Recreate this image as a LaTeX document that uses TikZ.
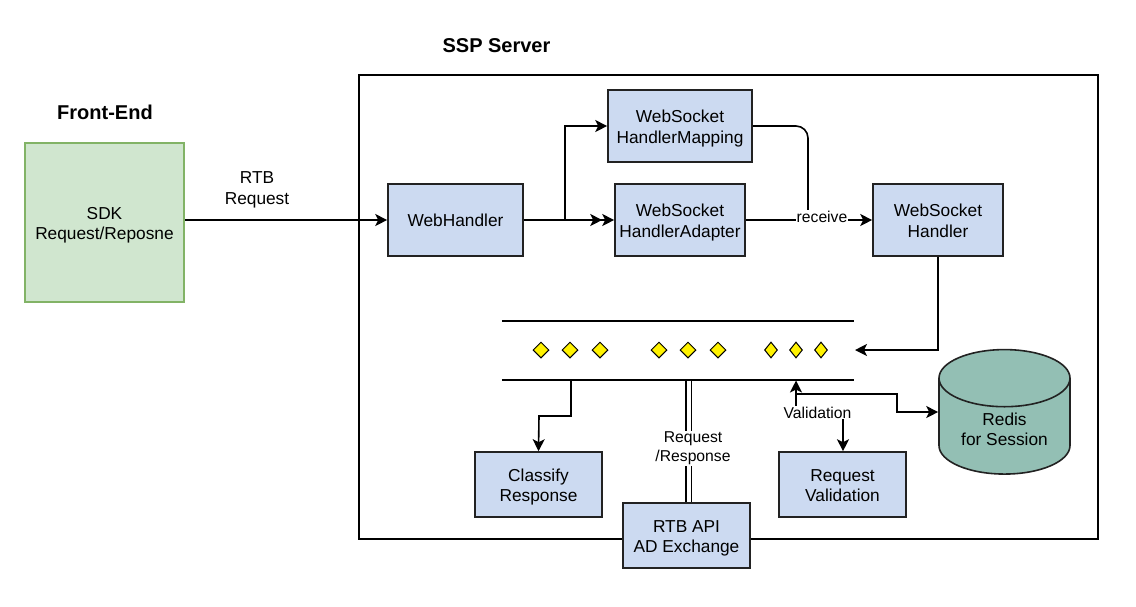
\documentclass[tikz,border=0pt]{standalone}
\usepackage{fontspec}
\setmainfont{Liberation Sans}
\usetikzlibrary{arrows.meta,shapes.geometric}
\definecolor{boxblue}{HTML}{CCDAF1}
\definecolor{boxgreen}{HTML}{D0E6CF}
\definecolor{edgegreen}{HTML}{82B366}
\definecolor{redisteal}{HTML}{93BFB4}
\definecolor{edgedark}{HTML}{222222}
\tikzset{
  box/.style={draw=edgedark, fill=boxblue, line width=1.6pt, align=center, inner sep=0pt,
    font=\fontsize{17.3}{20.5}\selectfont},
  twoline/.style={text height=34.5pt, text depth=-2pt},
  lbl/.style={align=center, inner sep=1pt, font=\fontsize{15.7}{19}\selectfont},
  title/.style={inner sep=0pt, font=\fontsize{20}{24}\selectfont\bfseries},
  token/.style={diamond, draw=black, fill=yellow, line width=1pt, inner sep=0pt},
  link/.style={line width=1.6pt, -{Stealth[length=12pt,width=12pt,inset=3pt]}},
  duallink/.style={line width=1.6pt, {Stealth[length=12pt,width=12pt,inset=3pt]}-{Stealth[length=12pt,width=12pt,inset=3pt]}},
  rail/.style={line width=1.6pt},
}
\begin{document}
\begin{tikzpicture}[x=1pt, y=-1pt]
  \useasboundingbox (0,0) rectangle (1136,606);
  % Containers
  \node[draw=black, line width=1.6pt, minimum width=739pt, minimum height=464pt, inner sep=0pt] (ssp) at (728.5,307) {};
  \node[title] (sspTitle) at (496.5,46) {SSP Server};
  \node[title] (feTitle) at (105,112.5) {Front-End};
  \node[box, twoline, draw=edgegreen, fill=boxgreen, minimum width=159pt, minimum height=159pt] (sdk) at (104.5,222.5) {SDK\\Request/Reposne};
  % Handlers
  \node[box, minimum width=135pt, minimum height=72pt] (webHandler) at (455.5,220) {WebHandler};
  \node[box, twoline, minimum width=144pt, minimum height=72pt] (wsMapping) at (680,126) {WebSocket\\HandlerMapping};
  \node[box, twoline, minimum width=130pt, minimum height=72pt] (wsAdapter) at (680,220) {WebSocket\\HandlerAdapter};
  \node[box, twoline, minimum width=130pt, minimum height=72pt] (wsHandler) at (938,220) {WebSocket\\Handler};
  \node[box, twoline, minimum width=127pt, minimum height=65pt] (classify) at (538.5,484.5) {Classify\\Response};
  \node[box, twoline, minimum width=127pt, minimum height=65pt] (validation) at (842.5,484.5) {Request\\Validation};
  \node[box, twoline, minimum width=127pt, minimum height=65pt] (rtbApi) at (686.5,535.5) {RTB API\\AD Exchange};
  % Redis
  \node[box, cylinder, shape border rotate=90, shape aspect=0.66, fill=redisteal, text height=38pt, text depth=-9.5pt,
    minimum width=131pt, minimum height=119pt] (redis) at (1004.5,426.5) {Redis\\for Session};
  % Queue
  \node[minimum width=352pt, minimum height=59pt, inner sep=0pt] (queue) at (678,350.5) {};
  \foreach \x in {630,748} {
    \draw[gray, line width=2.2pt] (\x-10,321) -- (\x+10,321);
    \draw[gray, line width=2.2pt] (\x-10,380) -- (\x+10,380);
  }
  \draw[rail] (queue.north west) -- (queue.north east);
  \draw[rail] (queue.south west) -- (queue.south east);
  \foreach \x in {541,570,600,659,688,718}
    \node[token, minimum width=16pt, minimum height=16pt] (tok\x) at (\x,350) {};
  \foreach \x in {771,796,821}
    \node[token, minimum width=13pt, minimum height=16pt] (tok\x) at (\x,350) {};
  \coordinate (tapClassify) at (571,380.5);
  \coordinate (tapCheck) at (796,380.5);
  \coordinate (tapApi) at (688.5,380.5);
  \coordinate (tapRedis) at (796,394);
  \coordinate (queueIn) at (855,350);
  \coordinate (redisIn) at (redis.west |- 0,412);
  % Connectors
  \draw[link] (sdk.east |- webHandler) -- (webHandler);
  \node[lbl, font=\fontsize{17.3}{20.5}\selectfont] (rtbLabel) at (257,190) {RTB\\Request};
  \draw[link] (webHandler.east) -- (565,220) |- (wsMapping.west);
  \draw[line width=1.6pt, -{Stealth[length=12pt,width=12pt,inset=3pt]Stealth[length=12pt,width=12pt,inset=3pt]}] (webHandler.east) -- (wsAdapter.west);
  \draw[line width=1.6pt, rounded corners=12pt] (wsMapping.east) -- (808,126) -- (808,220);
  \draw[link] (wsAdapter.east) -- (wsHandler.west);
  \node[lbl, fill=white] (receiveLabel) at (822,217) {receive};
  \draw[link] (wsHandler.south) |- (queueIn);
  \draw[link] (tapClassify) |- (539,416) -- (classify.north);
  \draw[double, double distance=4pt, line width=1.6pt] (tapApi) -- (tapApi |- rtbApi.north);
  \node[lbl, fill=white] (apiLabel) at (693,448.5) {Request\\/Response};
  \draw[link] (tapRedis) -- (897,394) |- (redisIn);
  \draw[duallink] (tapCheck) |- (843,412) -- (validation.north -| 843,0);
  \node[lbl, fill=white] (checkLabel) at (817.5,412.5) {Validation};
\end{tikzpicture}
\end{document}
